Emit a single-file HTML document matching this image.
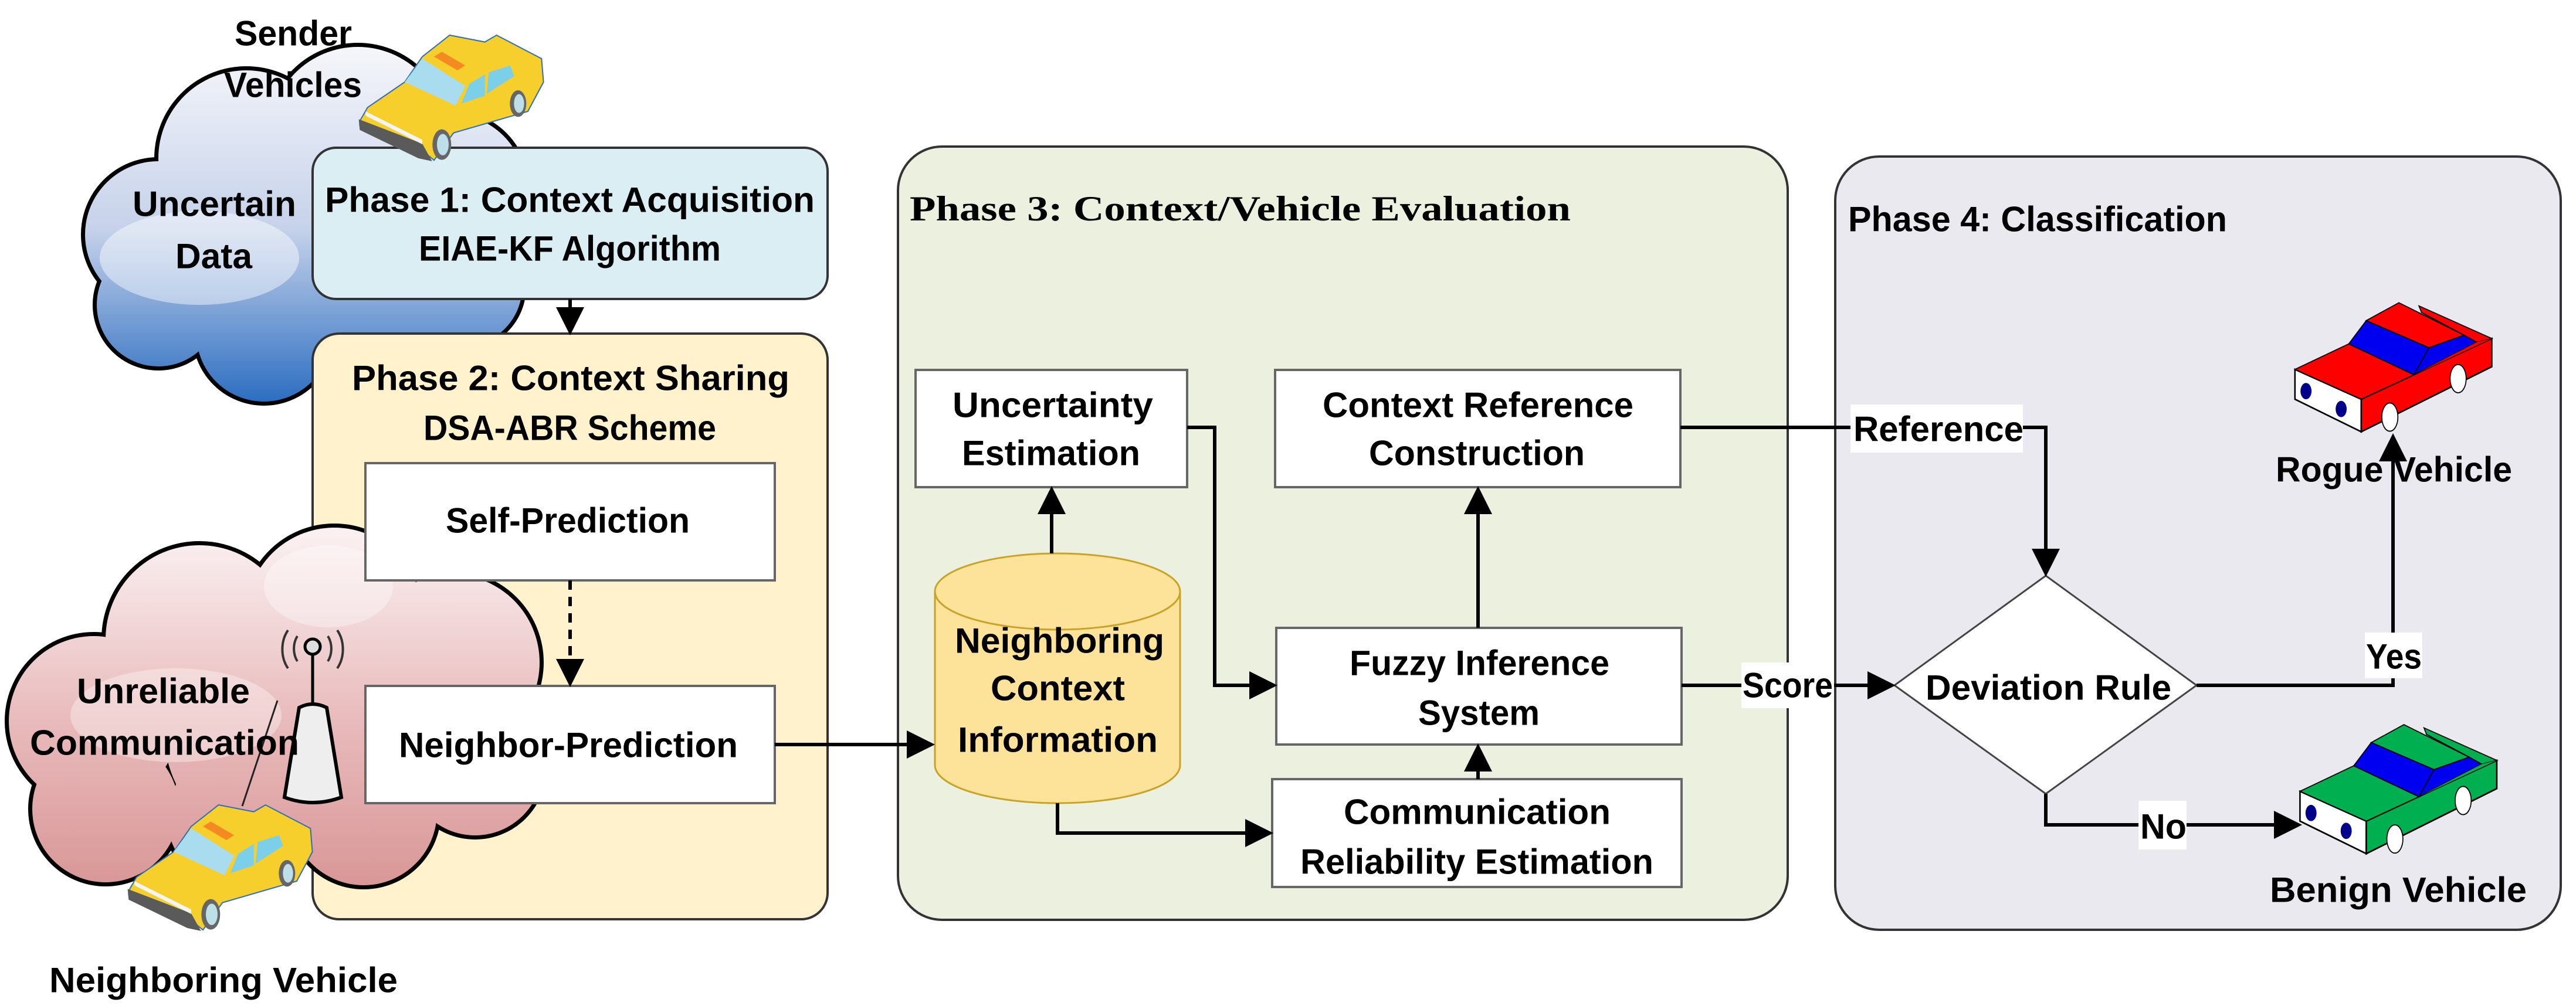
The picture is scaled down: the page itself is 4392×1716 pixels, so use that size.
<!DOCTYPE html>
<html><head><meta charset="utf-8"><style>
html,body{margin:0;padding:0;background:#fff;}
svg{display:block;}
text{font-family:"Liberation Sans",sans-serif;font-weight:bold;fill:#000;}
.s{font-family:"Liberation Serif",serif;}
</style></head><body>
<svg width="4392" height="1716" viewBox="0 0 4392 1716" xmlns="http://www.w3.org/2000/svg">
<defs>
<linearGradient id="gb" gradientUnits="userSpaceOnUse" x1="0" y1="90" x2="0" y2="690">
<stop offset="0" stop-color="#f4f5fa"/><stop offset="0.5" stop-color="#c6d2ea"/><stop offset="1" stop-color="#2a6cc0"/></linearGradient>
<linearGradient id="gp" gradientUnits="userSpaceOnUse" x1="0" y1="910" x2="0" y2="1510">
<stop offset="0" stop-color="#faf0f1"/><stop offset="0.55" stop-color="#e8b9ba"/><stop offset="1" stop-color="#d99797"/></linearGradient>
<marker id="ah" markerWidth="8" markerHeight="8" refX="7" refY="4" orient="auto" markerUnits="strokeWidth"><path d="M0,0 L8,4 L0,8 z" fill="#000"/></marker>
<g id="taxi">
<g transform="scale(0.3333)">
<polygon points="100,500 140,430 330,300 420,170 560,60 740,95 800,60 1030,180 1040,300 960,450 580,560 480,700 420,650 100,520" fill="#f7cf2c" stroke="#2f6fb8" stroke-width="6"/>
<polygon points="95,490 420,615 470,705 400,690 100,545" fill="#5a5a5a"/>
<polygon points="130,450 420,595 420,618 130,472" fill="#f4f4f4"/>
<polygon points="330,300 420,180 640,320 590,420" fill="#a9dcef"/>
<polygon points="620,410 660,310 740,260 740,370" fill="#7ccfe8"/>
<polygon points="750,360 760,250 870,215 890,270" fill="#7ccfe8"/>
<polygon points="480,170 520,145 640,215 600,240" fill="#f58a22"/>
<ellipse cx="520" cy="620" rx="48" ry="78" fill="#666"/><ellipse cx="525" cy="620" rx="30" ry="55" fill="#bcdfe8"/>
<ellipse cx="910" cy="410" rx="42" ry="68" fill="#666"/><ellipse cx="915" cy="410" rx="26" ry="48" fill="#bcdfe8"/>
</g></g>
</defs>

<!-- blue cloud -->
<g stroke="#000" stroke-width="14">
<circle cx="270" cy="400" r="125"/><circle cx="420" cy="270" r="150"/><circle cx="610" cy="230" r="150"/><circle cx="770" cy="320" r="125"/><circle cx="790" cy="490" r="100"/><circle cx="640" cy="565" r="120"/><circle cx="450" cy="570" r="115"/><circle cx="270" cy="520" r="105"/></g>
<g fill="url(#gb)">
<circle cx="270" cy="400" r="125"/><circle cx="420" cy="270" r="150"/><circle cx="610" cy="230" r="150"/><circle cx="770" cy="320" r="125"/><circle cx="790" cy="490" r="100"/><circle cx="640" cy="565" r="120"/><circle cx="450" cy="570" r="115"/><circle cx="270" cy="520" r="105"/><circle cx="500" cy="420" r="200"/></g>
<ellipse cx="340" cy="440" rx="170" ry="80" fill="#fff" opacity="0.45"/>

<!-- phase boxes -->
<rect x="533" y="252" width="878" height="258" rx="40" fill="#daeef3" stroke="#333" stroke-width="4"/>
<rect x="533" y="569" width="878" height="999" rx="45" fill="#fff2cc" stroke="#333" stroke-width="4"/>
<rect x="1531" y="250" width="1517" height="1319" rx="75" fill="#ebf1de" stroke="#333" stroke-width="4"/>
<rect x="3129" y="267" width="1237" height="1319" rx="75" fill="#ebe9f0" stroke="#333" stroke-width="4"/>

<!-- pink cloud -->
<g stroke="#000" stroke-width="14">
<circle cx="160" cy="1230" r="145"/><circle cx="340" cy="1090" r="160"/><circle cx="570" cy="1050" r="150"/><circle cx="770" cy="1130" r="150"/><circle cx="810" cy="1310" r="115"/><circle cx="620" cy="1385" r="125"/><circle cx="400" cy="1395" r="115"/><circle cx="180" cy="1380" r="125"/></g>
<g fill="url(#gp)">
<circle cx="160" cy="1230" r="145"/><circle cx="340" cy="1090" r="160"/><circle cx="570" cy="1050" r="150"/><circle cx="770" cy="1130" r="150"/><circle cx="810" cy="1310" r="115"/><circle cx="620" cy="1385" r="125"/><circle cx="400" cy="1395" r="115"/><circle cx="180" cy="1380" r="125"/><circle cx="480" cy="1250" r="200"/></g>
<ellipse cx="300" cy="1220" rx="180" ry="80" fill="#fff" opacity="0.35"/>
<ellipse cx="560" cy="1000" rx="110" ry="70" fill="#fff" opacity="0.35"/>

<!-- inner boxes -->
<g fill="#fff" stroke="#666" stroke-width="4">
<rect x="623" y="790" width="698" height="200"/>
<rect x="623" y="1170" width="698" height="200"/>
<rect x="1561" y="631" width="463" height="200"/>
<rect x="2174" y="631" width="691" height="200"/>
<rect x="2176" y="1071" width="691" height="199"/>
<rect x="2169" y="1329" width="698" height="184"/>
</g>
<!-- cylinder -->
<path d="M1594,1009 L1594,1305 A209,65 0 0 0 2012,1305 L2012,1009" fill="#fde39a" stroke="#c9a227" stroke-width="3"/>
<ellipse cx="1803" cy="1009" rx="209" ry="65" fill="#fde39a" stroke="#c9a227" stroke-width="3"/>
<!-- diamond -->
<polygon points="3488,982 3745,1169 3488,1354 3230,1169" fill="#fff" stroke="#444" stroke-width="3"/>

<!-- antenna -->
<g fill="none" stroke="#333" stroke-width="4">
<path d="M491,1075 A40,50 0 0 0 491,1140"/><path d="M507,1085 A28,35 0 0 0 507,1128"/>
<path d="M575,1075 A40,50 0 0 1 575,1140"/><path d="M559,1085 A28,35 0 0 1 559,1128"/>
<line x1="473" y1="1195" x2="413" y2="1375" stroke-width="3" stroke="#222"/>
</g>
<line x1="533" y1="1103" x2="533" y2="1200" stroke="#000" stroke-width="5"/>
<circle cx="533" cy="1103" r="13" fill="#ddd" stroke="#000" stroke-width="5"/>
<path d="M510,1207 L485,1360 Q533,1378 582,1360 L557,1207 Q533,1195 510,1207 z" fill="#eee" stroke="#000" stroke-width="6"/>

<!-- taxis -->
<use href="#taxi" transform="translate(580,40)"/>
<use href="#taxi" transform="translate(186,1353)"/>

<!-- connectors -->
<g stroke="#000" stroke-width="6" fill="none">
<line x1="972" y1="510" x2="972" y2="566" marker-end="url(#ah)"/>
<line x1="972" y1="990" x2="972" y2="1166" stroke-dasharray="16,12" marker-end="url(#ah)"/>
<line x1="1321" y1="1270" x2="1588" y2="1270" marker-end="url(#ah)"/>
<line x1="1793" y1="944" x2="1793" y2="835" marker-end="url(#ah)"/>
<polyline points="2024,729 2071,729 2071,1169 2172,1169" marker-end="url(#ah)"/>
<polyline points="1803,1370 1803,1421 2165,1421" marker-end="url(#ah)"/>
<line x1="2520" y1="1329" x2="2520" y2="1274" marker-end="url(#ah)"/>
<line x1="2520" y1="1071" x2="2520" y2="835" marker-end="url(#ah)"/>
<polyline points="2865,729 3488,729 3488,978" marker-end="url(#ah)"/>
<line x1="2867" y1="1169" x2="3226" y2="1169" marker-end="url(#ah)"/>
<polyline points="3745,1169 4080,1169 4080,745" marker-end="url(#ah)"/>
<polyline points="3488,1354 3488,1407 3919,1407" marker-end="url(#ah)"/>
</g>
<g fill="#fff">
<rect x="3155" y="690" width="294" height="82"/>
<rect x="2969" y="1130" width="158" height="78"/>
<rect x="4032" y="1079" width="98" height="78"/>
<rect x="3646" y="1366" width="82" height="83"/>
</g>

<!-- vehicles (rogue & benign) -->
<g transform="translate(3050,200) scale(0.856,0.925)">
<g>
<polygon points="1008,465 1140,520 1140,580 1008,520" fill="#fff" stroke="#000" stroke-width="3"/>
<polygon points="1140,520 1400,408 1400,460 1140,580" fill="#f00" stroke="#000" stroke-width="3"/>
<polygon points="1008,465 1115,418 1245,475 1140,520" fill="#f00" stroke="#000" stroke-width="2"/>
<polygon points="1115,418 1150,375 1275,425 1245,475" fill="#0000f0" stroke="#000" stroke-width="2"/>
<polygon points="1150,375 1215,342 1345,402 1275,425" fill="#f00" stroke="#000" stroke-width="2"/>
<polygon points="1245,475 1275,425 1345,402 1370,415" fill="#0000f0" stroke="#000" stroke-width="2"/>
<polygon points="1255,348 1400,408 1370,415 1345,402 1260,360" fill="#f00" stroke="#000" stroke-width="2"/>
<polygon points="1245,475 1370,415 1400,408 1140,520" fill="#f00"/>
<ellipse cx="1030" cy="505" rx="11" ry="15" fill="#00008b"/><ellipse cx="1100" cy="538" rx="11" ry="15" fill="#00008b"/>
<ellipse cx="1197" cy="553" rx="16" ry="26" fill="#fff" stroke="#000" stroke-width="2"/><ellipse cx="1333" cy="482" rx="16" ry="26" fill="#fff" stroke="#000" stroke-width="2"/>
</g>
<g transform="translate(10,778)">
<polygon points="1008,465 1140,520 1140,580 1008,520" fill="#fff" stroke="#000" stroke-width="3"/>
<polygon points="1140,520 1400,408 1400,460 1140,580" fill="#00b050" stroke="#000" stroke-width="3"/>
<polygon points="1008,465 1115,418 1245,475 1140,520" fill="#00b050" stroke="#000" stroke-width="2"/>
<polygon points="1115,418 1150,375 1275,425 1245,475" fill="#0000f0" stroke="#000" stroke-width="2"/>
<polygon points="1150,375 1215,342 1345,402 1275,425" fill="#00b050" stroke="#000" stroke-width="2"/>
<polygon points="1245,475 1275,425 1345,402 1370,415" fill="#0000f0" stroke="#000" stroke-width="2"/>
<polygon points="1255,348 1400,408 1370,415 1345,402 1260,360" fill="#00b050" stroke="#000" stroke-width="2"/>
<polygon points="1245,475 1370,415 1400,408 1140,520" fill="#00b050"/>
<ellipse cx="1030" cy="505" rx="11" ry="15" fill="#00008b"/><ellipse cx="1100" cy="538" rx="11" ry="15" fill="#00008b"/>
<ellipse cx="1197" cy="553" rx="16" ry="26" fill="#fff" stroke="#000" stroke-width="2"/><ellipse cx="1333" cy="482" rx="16" ry="26" fill="#fff" stroke="#000" stroke-width="2"/>
</g>
</g>
<line x1="4080" y1="790" x2="4080" y2="745" stroke="#000" stroke-width="6"/>

<!-- text -->
<g font-size="60" dominant-baseline="central">
<text x="400" y="57" textLength="200" lengthAdjust="spacingAndGlyphs">Sender</text>
<text x="382" y="145" textLength="235" lengthAdjust="spacingAndGlyphs">Vehicles</text>
<text x="226" y="348" textLength="279" lengthAdjust="spacingAndGlyphs">Uncertain</text>
<text x="299" y="437" textLength="131" lengthAdjust="spacingAndGlyphs">Data</text>
<text x="554" y="341" textLength="835" lengthAdjust="spacingAndGlyphs">Phase 1: Context Acquisition</text>
<text x="714" y="424" textLength="515" lengthAdjust="spacingAndGlyphs">EIAE-KF Algorithm</text>
<text x="600" y="645" textLength="746" lengthAdjust="spacingAndGlyphs">Phase 2: Context  Sharing</text>
<text x="722" y="730" textLength="499" lengthAdjust="spacingAndGlyphs">DSA-ABR Scheme</text>
<text x="760" y="888" textLength="416" lengthAdjust="spacingAndGlyphs">Self-Prediction</text>
<text x="680" y="1271" textLength="578" lengthAdjust="spacingAndGlyphs">Neighbor-Prediction</text>
<text x="131" y="1179" textLength="295" lengthAdjust="spacingAndGlyphs">Unreliable</text>
<text x="51" y="1267" textLength="459" lengthAdjust="spacingAndGlyphs">Communication</text>
<text x="84" y="1672" textLength="594" lengthAdjust="spacingAndGlyphs">Neighboring  Vehicle</text>
<text class="s" x="1551" y="356" textLength="1127" lengthAdjust="spacingAndGlyphs">Phase 3: Context/Vehicle Evaluation</text>
<text x="1624" y="691" textLength="342" lengthAdjust="spacingAndGlyphs">Uncertainty</text>
<text x="1640" y="773" textLength="304" lengthAdjust="spacingAndGlyphs">Estimation</text>
<text x="2255" y="691" textLength="530" lengthAdjust="spacingAndGlyphs">Context Reference</text>
<text x="2334" y="773" textLength="368" lengthAdjust="spacingAndGlyphs">Construction</text>
<text x="1628" y="1093" textLength="357" lengthAdjust="spacingAndGlyphs">Neighboring</text>
<text x="1689" y="1174" textLength="229" lengthAdjust="spacingAndGlyphs">Context</text>
<text x="1633" y="1262" textLength="341" lengthAdjust="spacingAndGlyphs">Information</text>
<text x="2301" y="1131" textLength="443" lengthAdjust="spacingAndGlyphs">Fuzzy Inference</text>
<text x="2418" y="1216" textLength="207" lengthAdjust="spacingAndGlyphs">System</text>
<text x="2291" y="1385" textLength="455" lengthAdjust="spacingAndGlyphs">Communication</text>
<text x="2217" y="1470" textLength="602" lengthAdjust="spacingAndGlyphs">Reliability Estimation</text>
<text x="2971" y="1169" textLength="154" lengthAdjust="spacingAndGlyphs">Score</text>
<text x="3151" y="374" textLength="646" lengthAdjust="spacingAndGlyphs">Phase 4: Classification</text>
<text x="3160" y="732" textLength="290" lengthAdjust="spacingAndGlyphs">Reference</text>
<text x="3283" y="1173" textLength="419" lengthAdjust="spacingAndGlyphs">Deviation Rule</text>
<text x="4034" y="1120" textLength="95" lengthAdjust="spacingAndGlyphs">Yes</text>
<text x="3649" y="1410" textLength="79" lengthAdjust="spacingAndGlyphs">No</text>
<text x="3880" y="801" textLength="403" lengthAdjust="spacingAndGlyphs">Rogue Vehicle</text>
<text x="3870" y="1518" textLength="438" lengthAdjust="spacingAndGlyphs">Benign  Vehicle</text>
</g>
</svg>
</body></html>
